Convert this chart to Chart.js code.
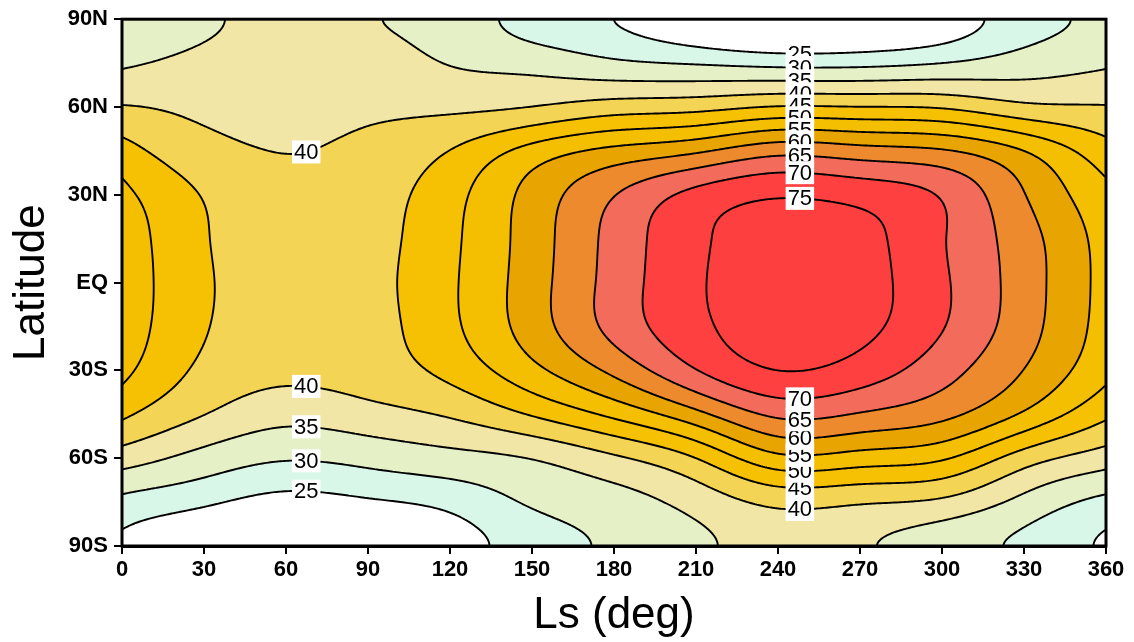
<!DOCTYPE html>
<html><head><meta charset="utf-8">
<script src="https://cdn.jsdelivr.net/npm/chart.js@4.4.1/dist/chart.umd.min.js"></script>
<style>html,body{margin:0;padding:0;background:#fff;}#wrap{width:1134px;height:642px;}</style>
</head><body><div id="wrap"><canvas id="c" width="1134" height="642"></canvas></div>
<script>
// ---- data (value grid: rows = latitude, columns = Ls) ----
const lsValues  = [0, 30, 60, 90, 120, 150, 180, 210, 240, 270, 300, 330]; // periodic, 360 = 0
const latValues = [90, 75, 60, 45, 30, 15, 0, -15, -30, -45, -60, -75, -90];
const row90N = [31.2, 34.2, 36.5, 35.3, 33.0, 28.0, 25.0, 21.0, 18.0, 19.0, 22.0, 27.8];
const row75N = [34.3, 36.4, 37.3, 37.2, 34.8, 33.3, 30.9, 29.6, 28.5, 28.6, 30.0, 32.3];
const row60N = [40.3, 38.9, 38.5, 39.1, 39.0, 40.1, 42.4, 43.3, 45.3, 45.1, 44.5, 41.2];
const row45N = [47.0, 41.7, 39.9, 41.2, 45.1, 51.8, 56.3, 59.2, 63.3, 62.0, 60.5, 55.0];
const row30N = [51.3, 44.7, 41.3, 42.6, 48.2, 56.8, 64.8, 71.5, 74.5, 73.3, 69.5, 60.2];
const row15N = [53.0, 45.4, 42.0, 43.1, 48.9, 57.4, 66.7, 74.0, 77.6, 76.6, 70.4, 62.1];
const rowEQ  = [53.3, 45.7, 42.3, 43.4, 49.2, 57.7, 67.0, 74.3, 78.0, 77.0, 70.8, 62.5];
const row15S = [53.0, 45.4, 42.0, 43.1, 48.9, 57.4, 66.6, 73.8, 77.5, 76.4, 70.3, 62.1];
const row30S = [51.3, 43.9, 41.2, 42.4, 46.5, 53.6, 61.2, 69.8, 75.0, 72.8, 67.0, 59.9];
const row45S = [46.0, 40.1, 36.7, 38.2, 40.6, 45.4, 51.2, 58.5, 66.0, 64.6, 61.4, 54.3];
const row60S = [37.4, 33.1, 30.4, 31.5, 33.3, 35.2, 39.2, 45.0, 53.6, 52.7, 50.6, 42.5];
const row75S = [28.6, 25.9, 22.8, 24.2, 26.5, 30.6, 33.0, 36.8, 41.2, 40.5, 39.0, 33.5];
const row90S = [24.3, 20.0, 15.5, 17.0, 22.3, 27.5, 30.8, 34.0, 37.0, 35.6, 32.5, 29.0];

const contourLevels = [25, 30, 35, 40, 45, 50, 55, 60, 65, 70, 75];
const xTickValues = [0, 30, 60, 90, 120, 150, 180, 210, 240, 270, 300, 330, 360];
const yTickValues = [-90, -60, -30, 0, 30, 60, 90];
const yTickLabels = ['90S', '60S', '30S', 'EQ', '30N', '60N', '90N'];
// contour labels: levels labelled along two Ls meridians
const labelLevelsWestN = [40];
const labelLevelsWestS = [40, 35, 30, 25];
const labelLevelsEastN = [25, 30, 35, 40, 45, 50, 55, 60, 65, 70, 75];
const labelLevelsEastS = [40, 45, 50, 55, 60, 65, 70];
const labelLsWest = 67.4, labelLsEast = 248;

// ---- styles ----
const bandColors = ['#ffffff', '#d8f7e9', '#e5f0c7', '#f2e6a7', '#f4d454', '#f6c102', '#f4bf00',
                    '#e8a400', '#ee8a2e', '#f36b5b', '#fe4040', '#fe3f3f'];

const field = [row90N, row75N, row60N, row45N, row30N, row15N, rowEQ, row15S, row30S, row45S, row60S, row75S, row90S];

// ---- cubic spline helpers ----
function solve(A, b) {
  const n = b.length, M = A.map((r, i) => r.concat([b[i]]));
  for (let k = 0; k < n; k++) {
    let p = k; for (let i = k + 1; i < n; i++) if (Math.abs(M[i][k]) > Math.abs(M[p][k])) p = i;
    [M[k], M[p]] = [M[p], M[k]];
    for (let i = k + 1; i < n; i++) { const f = M[i][k] / M[k][k]; for (let j = k; j <= n; j++) M[i][j] -= f * M[k][j]; }
  }
  const x = new Array(n).fill(0);
  for (let i = n - 1; i >= 0; i--) { let s = M[i][n]; for (let j = i + 1; j < n; j++) s -= M[i][j] * x[j]; x[i] = s / M[i][i]; }
  return x;
}
const hLat = Math.abs(latValues[1] - latValues[0]);
const nLat = latValues.length, nLs = lsValues.length, hLs = lsValues[1] - lsValues[0];
// clamped (zero slope at the poles) spline second derivatives, one per Ls column
const latM = lsValues.map((_, c) => {
  const y = field.map(r => r[c]), n = nLat, h = hLat;
  const A = [], b = [];
  for (let i = 0; i < n; i++) {
    const row = new Array(n).fill(0);
    if (i === 0) { row[0] = 2; row[1] = 1; b.push(6 / h * ((y[1] - y[0]) / h)); }
    else if (i === n - 1) { row[n - 2] = 1; row[n - 1] = 2; b.push(6 / h * (-(y[n - 1] - y[n - 2]) / h)); }
    else { row[i - 1] = 1; row[i] = 4; row[i + 1] = 1; b.push(6 / (h * h) * (y[i + 1] - 2 * y[i] + y[i - 1])); }
    A.push(row);
  }
  return solve(A, b);
});
// inverse of the periodic spline matrix (for Ls)
const perInv = (() => {
  const n = nLs, cols = [];
  const A = []; for (let i = 0; i < n; i++) { const r = new Array(n).fill(0); r[i] = 4; r[(i + 1) % n] += 1; r[(i - 1 + n) % n] += 1; A.push(r); }
  for (let k = 0; k < n; k++) { const e = new Array(n).fill(0); e[k] = 1; cols.push(solve(A, e)); }
  return cols;
})();
function splineEval(y0, y1, m0, m1, t, h) {
  const u = 1 - t;
  return u * y0 + t * y1 + h * h / 6 * ((u * u * u - u) * m0 + (t * t * t - t) * m1);
}
function columnValues(lat) {
  const s = (latValues[0] - lat) / hLat;
  let i = Math.floor(s); if (i < 0) i = 0; if (i > nLat - 2) i = nLat - 2;
  const t = s - i;
  return lsValues.map((_, c) => splineEval(field[i][c], field[i + 1][c], latM[c][i], latM[c][i + 1], t, hLat));
}
function periodicM(vals) {
  const n = nLs, rhs = vals.map((v, i) => 6 / (hLs * hLs) * (vals[(i + 1) % n] - 2 * v + vals[(i - 1 + n) % n]));
  const M = new Array(n).fill(0);
  for (let k = 0; k < n; k++) { const ck = perInv[k], r = rhs[k]; for (let i = 0; i < n; i++) M[i] += ck[i] * r; }
  return M;
}
function lsEval(vals, M, ls) {
  const cp = (((ls - lsValues[0]) % 360) + 360) % 360 / hLs;
  let j = Math.floor(cp); if (j >= nLs) j = nLs - 1;
  const t = cp - j, j1 = (j + 1) % nLs;
  return splineEval(vals[j], vals[j1], M[j], M[j1], t, hLs);
}
function fieldAt(ls, lat) { const v = columnValues(lat); return lsEval(v, periodicM(v), ls); }
function hexRgb(h) { return [parseInt(h.slice(1, 3), 16), parseInt(h.slice(3, 5), 16), parseInt(h.slice(5, 7), 16)]; }

const contourPlugin = {
  id: 'contour',
  beforeDatasetsDraw(chart) {
    const { ctx, chartArea: a, scales: { x, y } } = chart;
    const x0 = Math.round(a.left), x1 = Math.round(a.right), y0 = Math.round(a.top), y1 = Math.round(a.bottom);
    const W = x1 - x0, H = y1 - y0;
    const V = new Float32Array(W * H);
    const lsCol = []; for (let i = 0; i < W; i++) lsCol.push(x.getValueForPixel(x0 + i + 0.5));
    for (let j = 0; j < H; j++) {
      const vals = columnValues(y.getValueForPixel(y0 + j + 0.5)), M = periodicM(vals);
      for (let i = 0; i < W; i++) V[j * W + i] = lsEval(vals, M, lsCol[i]);
    }
    const rgb = bandColors.map(hexRgb);
    const img = ctx.createImageData(W, H);
    for (let k = 0; k < W * H; k++) {
      const v = V[k]; let b = 0;
      while (b < contourLevels.length && v >= contourLevels[b]) b++;
      const c = rgb[b];
      img.data[4 * k] = c[0]; img.data[4 * k + 1] = c[1]; img.data[4 * k + 2] = c[2]; img.data[4 * k + 3] = 255;
    }
    ctx.putImageData(img, x0, y0);
    // contour lines (marching squares on a 2-px lattice)
    const s = 2;
    const GW = Math.floor((W - 1) / s) + 1, GH = Math.floor((H - 1) / s) + 1;
    const gv = (gi, gj) => V[(gj * s) * W + gi * s];
    ctx.save();
    ctx.beginPath(); ctx.rect(a.left, a.top, a.right - a.left, a.bottom - a.top); ctx.clip();
    ctx.strokeStyle = '#000'; ctx.lineWidth = 1.9; ctx.lineCap = 'round'; ctx.lineJoin = 'round';
    for (const L of contourLevels) {
      ctx.beginPath();
      for (let gj = 0; gj < GH - 1; gj++) {
        for (let gi = 0; gi < GW - 1; gi++) {
          const tl = gv(gi, gj), tr = gv(gi + 1, gj), br = gv(gi + 1, gj + 1), bl = gv(gi, gj + 1);
          const idx = (tl >= L ? 8 : 0) | (tr >= L ? 4 : 0) | (br >= L ? 2 : 0) | (bl >= L ? 1 : 0);
          if (idx === 0 || idx === 15) continue;
          const px = x0 + gi * s + 0.5, py = y0 + gj * s + 0.5;
          const T = () => [px + s * (L - tl) / (tr - tl), py];
          const R = () => [px + s, py + s * (L - tr) / (br - tr)];
          const B = () => [px + s * (L - bl) / (br - bl), py + s];
          const Lf = () => [px, py + s * (L - tl) / (bl - tl)];
          const seg = (p, q) => { ctx.moveTo(p[0], p[1]); ctx.lineTo(q[0], q[1]); };
          const center = (tl + tr + br + bl) / 4 >= L;
          switch (idx) {
            case 1: case 14: seg(Lf(), B()); break;
            case 2: case 13: seg(B(), R()); break;
            case 3: case 12: seg(Lf(), R()); break;
            case 4: case 11: seg(T(), R()); break;
            case 6: case 9: seg(T(), B()); break;
            case 7: case 8: seg(T(), Lf()); break;
            case 5: if (center) { seg(T(), Lf()); seg(B(), R()); } else { seg(T(), R()); seg(Lf(), B()); } break;
            case 10: if (center) { seg(T(), R()); seg(Lf(), B()); } else { seg(T(), Lf()); seg(B(), R()); } break;
          }
        }
      }
      ctx.stroke();
    }
    ctx.restore();
  },
  afterDatasetsDraw(chart) {
    const { ctx, chartArea: a, scales: { x, y } } = chart;
    function findLat(level, ls, side) {
      const dir = side === 'N' ? 1 : -1;
      let prev = fieldAt(ls, 0), plat = 0;
      for (let k = 1; k <= 900; k++) {
        const lat = dir * k * 0.1, v = fieldAt(ls, lat);
        if ((prev - level) * (v - level) <= 0 && prev !== v) return plat + (lat - plat) * (level - prev) / (v - prev);
        prev = v; plat = lat;
      }
      return null;
    }
    ctx.save();
    ctx.font = '22px "Liberation Sans", Arial, sans-serif';
    ctx.textAlign = 'center'; ctx.textBaseline = 'middle';
    const draw = (levels, ls, side) => {
      for (const lev of levels) {
        const lat = findLat(lev, ls, side); if (lat === null) continue;
        const px = x.getPixelForValue(ls), py = y.getPixelForValue(lat);
        const txt = String(lev), w = ctx.measureText(txt).width + 4, h = 23;
        ctx.fillStyle = '#fff'; ctx.fillRect(px - w / 2, py - h / 2, w, h);
        ctx.fillStyle = '#000'; ctx.fillText(txt, px, py + 1);
      }
    };
    draw(labelLevelsWestN, labelLsWest, 'N');
    draw(labelLevelsWestS, labelLsWest, 'S');
    draw(labelLevelsEastN, labelLsEast, 'N');
    draw(labelLevelsEastS, labelLsEast, 'S');
    ctx.strokeStyle = '#000'; ctx.lineWidth = 3;
    ctx.strokeRect(a.left, a.top, a.right - a.left, a.bottom - a.top);
    ctx.restore();
  }
};

const tickFont = { family: '"Liberation Sans", Arial, sans-serif', size: 22, weight: 'bold' };
new Chart(document.getElementById('c'), {
  type: 'scatter',
  data: { datasets: [{ data: [], showLine: false }] },
  options: {
    responsive: false, animation: false, devicePixelRatio: 1,
    layout: { padding: { top: 16, right: 28, left: 0, bottom: 0 } },
    plugins: { legend: { display: false }, tooltip: { enabled: false } },
    scales: {
      x: {
        type: 'linear', min: 0, max: 360,
        afterBuildTicks: s => { s.ticks = xTickValues.map(v => ({ value: v })); },
        afterFit: s => { s.height = 96; },
        ticks: { color: '#000', font: tickFont, padding: 3, maxRotation: 0, autoSkip: false },
        grid: { drawOnChartArea: false, drawTicks: true, tickLength: 8, color: '#000', lineWidth: 2 },
        border: { display: true, color: '#000', width: 3 },
        title: { display: true, text: 'Ls (deg)', color: '#000', font: { family: '"Liberation Sans", Arial, sans-serif', size: 44, lineHeight: 1 }, padding: { top: 0, bottom: 4 } }
      },
      y: {
        type: 'linear', min: -90, max: 90,
        afterBuildTicks: s => { s.ticks = yTickValues.map(v => ({ value: v })); },
        afterFit: s => { s.width = 122; },
        ticks: { color: '#000', font: tickFont, padding: 6, autoSkip: false,
                 callback: v => yTickLabels[yTickValues.indexOf(v)] },
        grid: { drawOnChartArea: false, drawTicks: true, tickLength: 8, color: '#000', lineWidth: 2 },
        border: { display: true, color: '#000', width: 3 },
        title: { display: true, text: 'Latitude', color: '#000', font: { family: '"Liberation Sans", Arial, sans-serif', size: 44, lineHeight: 1 }, padding: { top: 10, bottom: 0 } }
      }
    }
  },
  plugins: [contourPlugin]
});
</script></body></html>
